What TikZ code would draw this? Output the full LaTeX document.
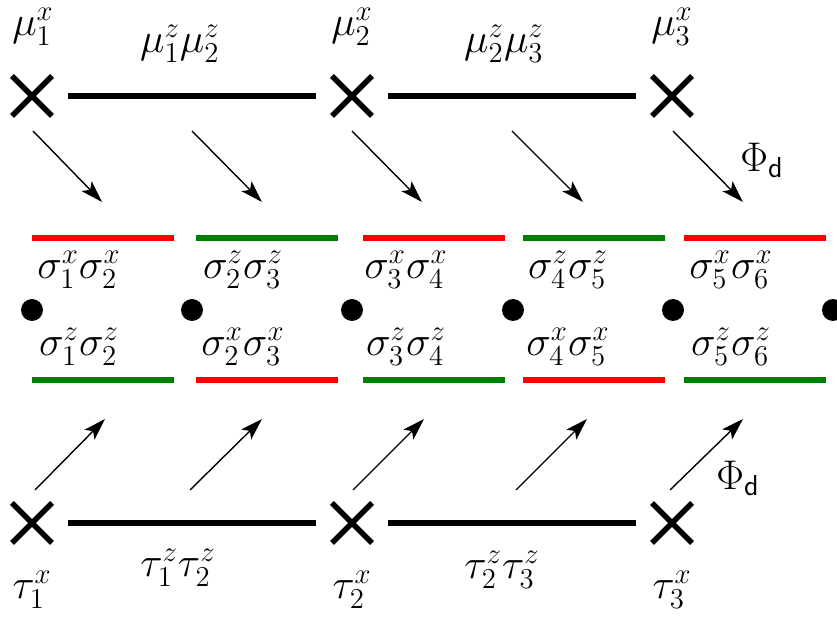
\documentclass[tikz,border=0pt]{standalone}
\usetikzlibrary{shapes.misc,arrows.meta}
\begin{document}
\begin{tikzpicture}[x=0.5pt,y=-0.5pt,
  every node/.style={font=\fontsize{20}{24}\selectfont},
  xmark/.style={draw, cross out, line width=2.8pt, minimum size=20pt, inner sep=0pt, outer sep=0pt},
  bar/.style={line width=3.3pt, shorten <=8pt, shorten >=8pt},
  cbar/.style={line width=3.3pt},
  arr/.style={line width=0.7pt, -{Stealth[length=11pt,width=7pt,inset=2.5pt]}},
  dot/.style={circle, fill, inner sep=0pt, minimum size=11pt}]
\definecolor{myred}{RGB}{255,0,0}
\definecolor{mygreen}{RGB}{0,128,0}
\useasboundingbox (0,0) rectangle (837,620);
% top row
\node[xmark] (m1) at (32,96) {};
\node[xmark] (m2) at (352,96) {};
\node[xmark] (m3) at (672,96) {};
\draw[bar] (m1) -- (m2);
\draw[bar] (m2) -- (m3);
\node (lm1) at (33,27) {$\mu_1^x$};
\node (lm2) at (352,27) {$\mu_2^x$};
\node (lm3) at (672,27) {$\mu_3^x$};
\node (lm12) at (180,44) {$\mu_1^z\mu_2^z$};
\node (lm23) at (504,44) {$\mu_2^z\mu_3^z$};
% bottom row
\node[xmark] (t1) at (32,523) {};
\node[xmark] (t2) at (352,523) {};
\node[xmark] (t3) at (672,523) {};
\draw[bar] (t1) -- (t2);
\draw[bar] (t2) -- (t3);
\node (lt1) at (32,590) {$\tau_1^x$};
\node (lt2) at (352,590) {$\tau_2^x$};
\node (lt3) at (672,590) {$\tau_3^x$};
\node (lt12) at (178,568) {$\tau_1^z\tau_2^z$};
\node (lt23) at (502,570) {$\tau_2^z\tau_3^z$};
% middle bars
\foreach \s/\c/\d [count=\i] in {32/myred/mygreen,196/mygreen/myred,363/myred/mygreen,523/mygreen/myred,684/myred/mygreen}{
  \coordinate (ua\i) at (\s,238);
  \coordinate (ub\i) at (\s+142,238);
  \coordinate (la\i) at (\s,380);
  \coordinate (lb\i) at (\s+142,380);
  \draw[cbar,\c] (ua\i) -- (ub\i);
  \draw[cbar,\d] (la\i) -- (lb\i);
}
% dots
\foreach \x [count=\i] in {32,192,352,513,673,833}{
  \node[dot] (d\i) at (\x,310) {};
}
% sigma labels
\node (s1u) at (79,270) {$\sigma_1^x\sigma_2^x$};
\node (s2u) at (243,270) {$\sigma_2^z\sigma_3^z$};
\node (s3u) at (406,270) {$\sigma_3^x\sigma_4^x$};
\node (s4u) at (568,270) {$\sigma_4^z\sigma_5^z$};
\node (s5u) at (731,270) {$\sigma_5^x\sigma_6^x$};
\node (s1l) at (79,347) {$\sigma_1^z\sigma_2^z$};
\node (s2l) at (243,347) {$\sigma_2^x\sigma_3^x$};
\node (s3l) at (406,347) {$\sigma_3^z\sigma_4^z$};
\node (s4l) at (568,347) {$\sigma_4^x\sigma_5^x$};
\node (s5l) at (731,347) {$\sigma_5^z\sigma_6^z$};
% arrows
\foreach \a/\b [count=\i] in {33/102,192/262,352/422,512/583,673/743}{
  \coordinate (ta\i) at (\a,131);
  \coordinate (tb\i) at (\b,202);
  \draw[arr] (ta\i) -- (tb\i);
}
\foreach \a/\b [count=\i] in {35/105,190/262,353/424,516/587,670/743}{
  \coordinate (ba\i) at (\a,490);
  \coordinate (bb\i) at (\b,419);
  \draw[arr] (ba\i) -- (bb\i);
}
\node (phit) at (762,160) {$\Phi_{\mathsf{d}}$};
\node (phib) at (738,478) {$\Phi_{\mathsf{d}}$};
\end{tikzpicture}
\end{document}
